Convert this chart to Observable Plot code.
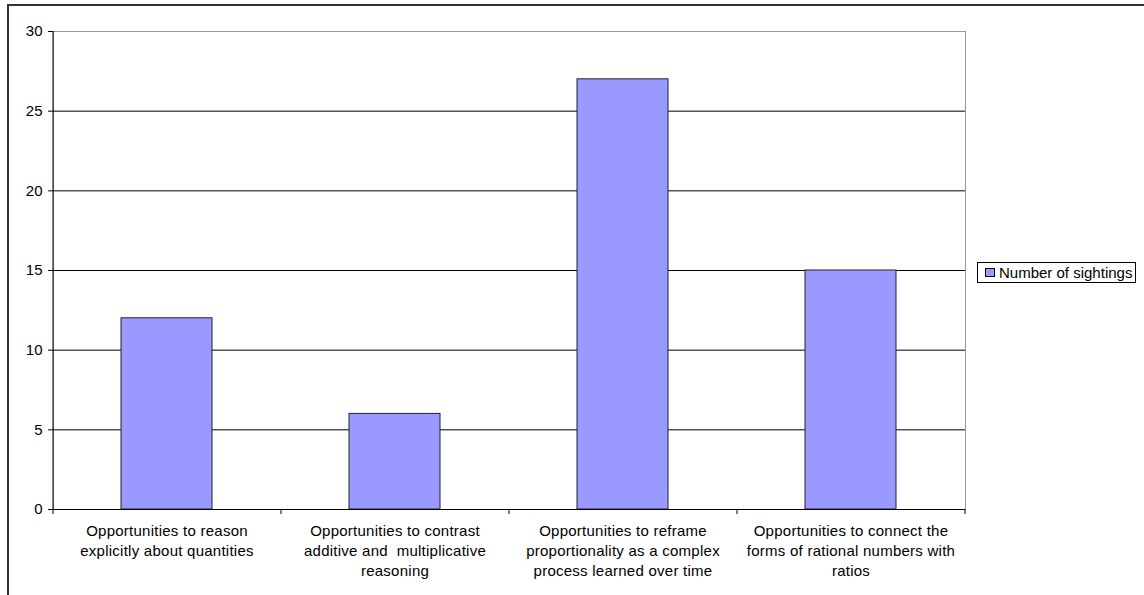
<!DOCTYPE html>
<html>
<head>
<meta charset="utf-8">
<script src="https://cdn.jsdelivr.net/npm/d3@7"></script>
<script src="https://cdn.jsdelivr.net/npm/@observablehq/plot@0.6"></script>
<style>
  html, body { margin: 0; padding: 0; background: #fff; overflow: hidden; }
  #wrap { position: relative; width: 1144px; height: 595px; overflow: hidden; font-family: "Liberation Sans", Arial, sans-serif; }
  #outer { position: absolute; left: 7px; top: 4px; width: 1300px; height: 800px; border: 2px solid #333; box-sizing: border-box; pointer-events: none; }
  #chart { position: absolute; left: 0; top: 0; }
  #chart text.catlabel, #chart g.catlabel text { letter-spacing: 0.25px; }
  #legend { position: absolute; left: 977px; top: 262px; width: 159px; height: 21px; border: 1px solid #000; box-sizing: border-box; background: #fff;
            font-size: 15px; color: #000; display: flex; align-items: center; }
  #legend .sw { width: 8px; height: 7px; border: 1px solid #000; background: #9999ff; margin-left: 7px; margin-right: 4px; }
</style>
</head>
<body>
<div id="wrap">
  <div id="chart"></div>
  <div id="outer"></div>
  <div id="legend"><span class="sw"></span><span id="legendText"></span></div>
</div>
<script>
const categories = [
  "Opportunities to reason\nexplicitly about quantities",
  "Opportunities to contrast\nadditive and  multiplicative\nreasoning",
  "Opportunities to reframe\nproportionality as a complex\nprocess learned over time",
  "Opportunities to connect the\nforms of rational numbers with\nratios"
];
const sightings = [12, 6, 27, 15];
const seriesName = "Number of sightings";
const yTicks = [0, 5, 10, 15, 20, 25, 30];
const gridLines = [5, 10, 15, 20, 25];

document.getElementById("legendText").textContent = seriesName;

const W = 1144, H = 595;
const mL = 53, mR = 179, mT = 31, mB = 86;
const step = (W - mL - mR) / categories.length;
const tickUnits = 5 * 30 / (H - mT - mB);

const data = categories.map((c, i) => ({category: c, value: sightings[i]}));

const chart = Plot.plot({
  width: W,
  height: H,
  marginLeft: mL,
  marginRight: mR,
  marginTop: mT,
  marginBottom: mB,
  style: {fontFamily: "'Liberation Sans', Arial, sans-serif", fontSize: "15px", color: "#000", background: "transparent"},
  x: {type: "band", domain: categories, paddingInner: 0.6, paddingOuter: 0.3, axis: null},
  y: {domain: [0, 30], axis: null},
  marks: [
    Plot.frame({stroke: "#999"}),
    Plot.ruleY(gridLines, {stroke: "#000", strokeWidth: 1}),
    Plot.barY(data, {x: "category", y: "value", fill: "#9999ff", stroke: "#222", strokeWidth: 1}),
    Plot.ruleY([0], {stroke: "#000", strokeWidth: 1}),
    Plot.ruleX([categories[0]], {x: d => d, y1: 0, y2: 30, dx: -step / 2, stroke: "#000"}),
    Plot.ruleX(categories, {x: d => d, y1: 0, y2: -tickUnits, dx: -step / 2, stroke: "#000"}),
    Plot.ruleX([categories[categories.length - 1]], {x: d => d, y1: 0, y2: -tickUnits, dx: step / 2, stroke: "#000"}),
    Plot.axisY({ticks: yTicks, tickSize: 5, tickPadding: 6, label: null, fontSize: 15, stroke: "#000"}),
    Plot.text(data, {x: "category", y: 0, text: "category", lineAnchor: "top", dy: 12, lineHeight: 1.33, fontSize: 15, fill: "#000", className: "catlabel"})
  ]
});
document.getElementById("chart").appendChild(chart);
</script>
</body>
</html>
